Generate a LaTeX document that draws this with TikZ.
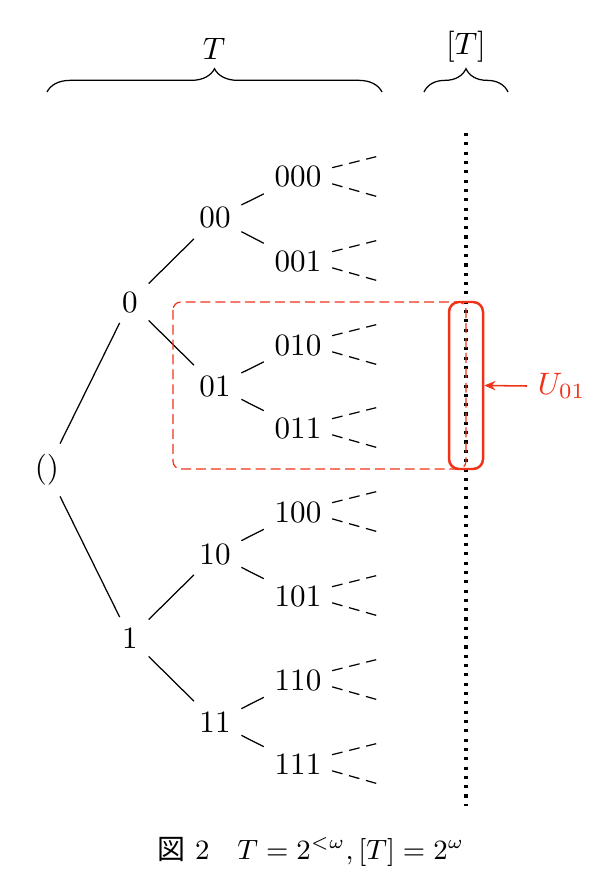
\documentclass[tikz,border=0pt]{standalone}
\usepackage{fontspec}
\newfontfamily\cjk{Noto Sans CJK JP}
\usetikzlibrary{decorations.pathreplacing,arrows.meta}
\definecolor{myred}{RGB}{240,50,25}
\tikzset{
  lbl/.style={inner sep=3.3pt},
  edge/.style={line width=0.4pt},
  cont/.style={line width=0.4pt, dash pattern=on 3.45pt off 2.2pt},
  brc/.style={decorate, decoration={brace, amplitude=7.5pt}, line width=0.4pt},
}
\begin{document}
\begin{tikzpicture}[x=0.322pt,y=-0.322pt]
\useasboundingbox (0,0) rectangle (609,889);
% nodes
\node[lbl] (r) at (47,470) {$()$};
\node[lbl] (n0) at (130,302) {$0$};
\node[lbl] (n1) at (130,638) {$1$};
\node[lbl] (n00) at (215,218) {$00$};
\node[lbl] (n01) at (215,386) {$01$};
\node[lbl] (n10) at (215,554) {$10$};
\node[lbl] (n11) at (215,722) {$11$};
\node[lbl] (n000) at (298,177) {$000$};
\node[lbl] (n001) at (298,261) {$001$};
\node[lbl] (n010) at (298,345) {$010$};
\node[lbl] (n011) at (298,428) {$011$};
\node[lbl] (n100) at (298,512) {$100$};
\node[lbl] (n101) at (298,596) {$101$};
\node[lbl] (n110) at (298,680) {$110$};
\node[lbl] (n111) at (298,764) {$111$};
% edges
\draw[edge] (r) -- (n0);
\draw[edge] (r) -- (n1);
\draw[edge] (n0) -- (n00);
\draw[edge] (n0) -- (n01);
\draw[edge] (n1) -- (n10);
\draw[edge] (n1) -- (n11);
\foreach \p/\a/\b in {n00/n000/n001, n01/n010/n011, n10/n100/n101, n11/n110/n111}{
  \draw[edge] (\p) -- (\a);
  \draw[edge] (\p) -- (\b);
}
% continuation dashes
\foreach \l in {n000,n001,n010,n011,n100,n101,n110,n111}{
  \draw[cont] ([yshift=3pt]\l.east) -- ++(44,-11);
  \draw[cont] ([yshift=-2.2pt]\l.east) -- ++(44,12.5);
}
% dotted branch line
\coordinate (dt) at (466,133);
\coordinate (db) at (466,806);
\draw[line width=1pt, dotted] (dt) -- (db);
% red highlight
\draw[myred, line width=0.4pt, dash pattern=on 3.2pt off 1.6pt, rounded corners=2.5pt] (173,302) rectangle (466,469);
\node[draw=myred, line width=0.8pt, rounded corners=3.2pt, minimum width=34*0.322pt, minimum height=167*0.322pt, inner sep=0pt] (U) at (466,385.5) {};
\node[text=myred, anchor=west] (ul) at (527,386) {$U_{01}$};
\draw[myred, line width=0.5pt, -{Stealth[length=3.6pt,width=3pt]}] (ul.west) -- (U.east);
% braces
\coordinate (b1l) at (47,92);
\coordinate (b1r) at (382,92);
\coordinate (b2l) at (424,92);
\coordinate (b2r) at (508,92);
\draw[brc] (b1l) -- (b1r);
\draw[brc] (b2l) -- (b2r);
\node (tl) at (214,49) {$T$};
\node (ttl) at (466,47) {$[T]$};
% caption
\node[font=\small] (cap) at (311,852) {{\cjk 図}\ 2\quad$T=2^{<\omega},[T]=2^\omega$};
\end{tikzpicture}
\end{document}
